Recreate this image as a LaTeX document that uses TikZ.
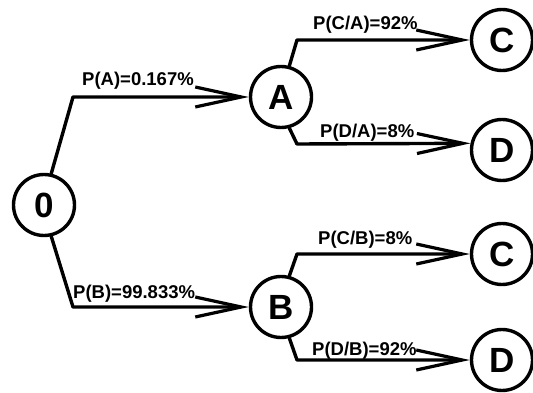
\documentclass[tikz,border=0pt]{standalone}
\usepackage{fontspec}
\setmainfont{Liberation Sans}
\usetikzlibrary{arrows.meta}
\begin{document}
\begin{tikzpicture}[x=1pt,y=-1pt,
  state/.style={circle,draw,line width=3.4pt,minimum size=61pt,inner sep=0pt,
    font=\fontsize{35}{35}\selectfont\bfseries},
  conn/.style={line width=3.4pt,line join=round,line cap=round,
    -{Straight Barb[length=46pt,width=20pt,line width=3.2pt]}},
  prob/.style={anchor=base west,inner sep=0pt,font=\fontsize{18.5}{20}\selectfont\bfseries}]
\useasboundingbox (0,0) rectangle (533,393);
\node[state] (o) at (44,205) {0};
\node[state] (a) at (281,97) {A};
\node[state] (b) at (281,307) {B};
\node[state] (c1) at (502,40) {C};
\node[state] (d1) at (502,150) {D};
\node[state] (c2) at (502,254) {C};
\node[state] (d2) at (502,360) {D};
\draw[conn] (o.77) -- (73,97) -- (a.west);
\draw[conn] (o.-77) -- (73,307) -- (b.west);
\draw[conn] (a.75) -- (297,40) -- (c1.west);
\draw[conn] (a.-75) -- (297,144) -- (d1.168);
\draw[conn] (b.75) -- (297,254) -- (c2.west);
\draw[conn] (b.-75) -- (297,360) -- (d2.west);
\node[prob] (la) at (82,86) {P(A)=0.167\%};
\node[prob] (lb) at (73,298) {P(B)=99.833\%};
\node[prob] (lca) at (313,30) {P(C/A)=92\%};
\node[prob] (lda) at (320,138) {P(D/A)=8\%};
\node[prob] (lcb) at (318,244) {P(C/B)=8\%};
\node[prob] (ldb) at (312,355) {P(D/B)=92\%};
\end{tikzpicture}
\end{document}
